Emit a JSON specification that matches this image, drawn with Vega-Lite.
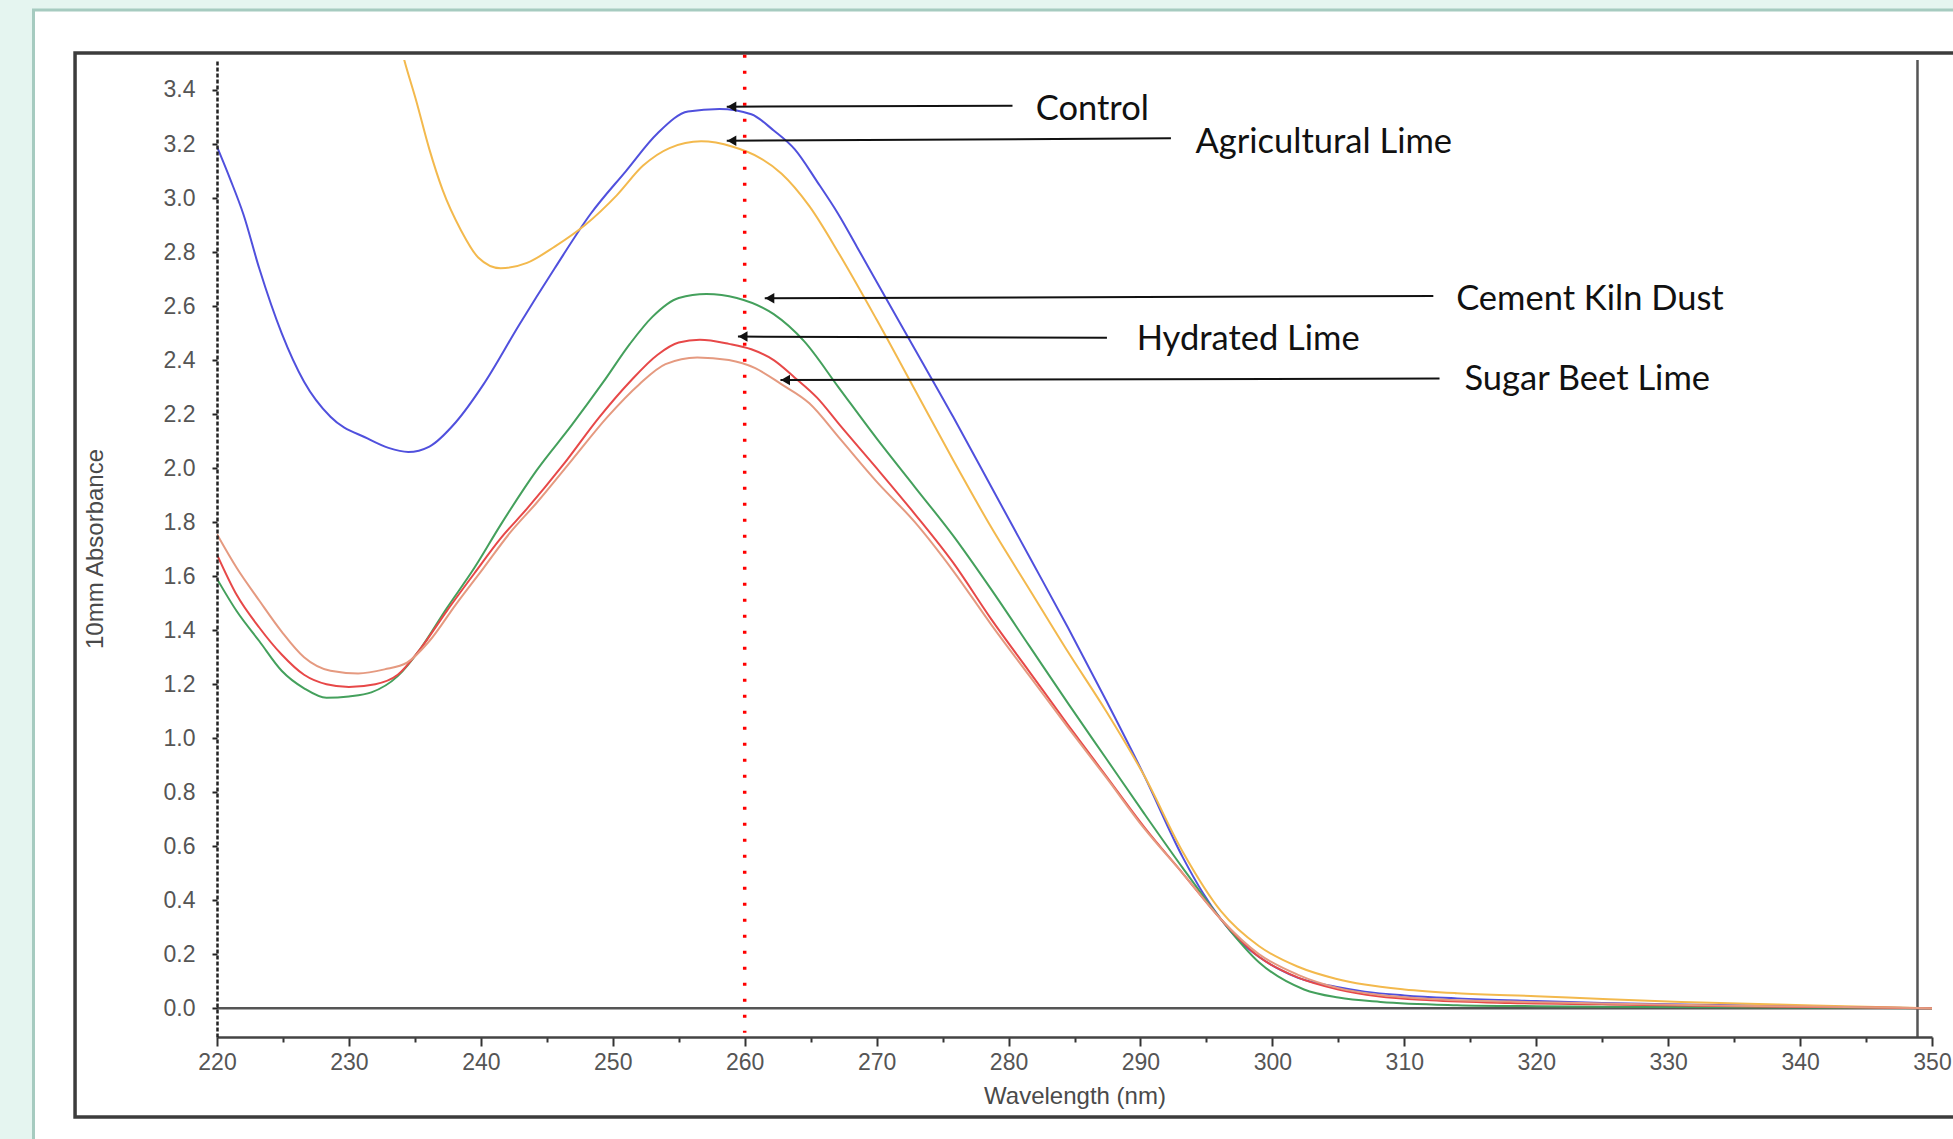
{
  "$schema": "https://vega.github.io/schema/vega-lite/v6.json",
  "width": 1715,
  "height": 977,
  "autosize": {"type": "none"},
  "padding": {"left": 217, "top": 60, "right": 21, "bottom": 102},
  "background": "#ffffff",
  "config": {"view": {"stroke": null}},
  "datasets": {
    "spectra": [
      {"sample":"Control","wavelength":220,"absorbance":3.19},{"sample":"Control","wavelength":221,"absorbance":3.07},{"sample":"Control","wavelength":222,"absorbance":2.94},{"sample":"Control","wavelength":223.2,"absorbance":2.74},{"sample":"Control","wavelength":224.9,"absorbance":2.5},{"sample":"Control","wavelength":226.6,"absorbance":2.32},{"sample":"Control","wavelength":228.6,"absorbance":2.19},{"sample":"Control","wavelength":231.4,"absorbance":2.11},{"sample":"Control","wavelength":233.0,"absorbance":2.075},{"sample":"Control","wavelength":234.5,"absorbance":2.06},{"sample":"Control","wavelength":236.1,"absorbance":2.08},{"sample":"Control","wavelength":238.1,"absorbance":2.17},{"sample":"Control","wavelength":240.2,"absorbance":2.31},{"sample":"Control","wavelength":242.9,"absorbance":2.53},{"sample":"Control","wavelength":245.6,"absorbance":2.74},{"sample":"Control","wavelength":248.3,"absorbance":2.94},{"sample":"Control","wavelength":251.0,"absorbance":3.1},{"sample":"Control","wavelength":253.4,"absorbance":3.24},{"sample":"Control","wavelength":255.7,"absorbance":3.32},{"sample":"Control","wavelength":258.1,"absorbance":3.33},{"sample":"Control","wavelength":260.5,"absorbance":3.31},{"sample":"Control","wavelength":262.2,"absorbance":3.25},{"sample":"Control","wavelength":263.8,"absorbance":3.18},{"sample":"Control","wavelength":265.5,"absorbance":3.06},{"sample":"Control","wavelength":267.1,"absorbance":2.94},{"sample":"Control","wavelength":268.5,"absorbance":2.82},{"sample":"Control","wavelength":270.0,"absorbance":2.69},{"sample":"Control","wavelength":272.9,"absorbance":2.44},{"sample":"Control","wavelength":275.8,"absorbance":2.19},{"sample":"Control","wavelength":278.7,"absorbance":1.93},{"sample":"Control","wavelength":281.6,"absorbance":1.67},{"sample":"Control","wavelength":284.5,"absorbance":1.41},{"sample":"Control","wavelength":287.4,"absorbance":1.14},{"sample":"Control","wavelength":290.3,"absorbance":0.86},{"sample":"Control","wavelength":293.2,"absorbance":0.56},{"sample":"Control","wavelength":294.7,"absorbance":0.43},{"sample":"Control","wavelength":296.1,"absorbance":0.33},{"sample":"Control","wavelength":297.5,"absorbance":0.25},{"sample":"Control","wavelength":299.0,"absorbance":0.19},{"sample":"Control","wavelength":300.5,"absorbance":0.145},{"sample":"Control","wavelength":302.0,"absorbance":0.112},{"sample":"Control","wavelength":304.8,"absorbance":0.08},{"sample":"Control","wavelength":307,"absorbance":0.062},{"sample":"Control","wavelength":310,"absorbance":0.048},{"sample":"Control","wavelength":314,"absorbance":0.037},{"sample":"Control","wavelength":320,"absorbance":0.027},{"sample":"Control","wavelength":325,"absorbance":0.02},{"sample":"Control","wavelength":330,"absorbance":0.015},{"sample":"Control","wavelength":340,"absorbance":0.008},{"sample":"Control","wavelength":350,"absorbance":0.0},

      {"sample":"Agricultural Lime","wavelength":233.0,"absorbance":3.75},{"sample":"Agricultural Lime","wavelength":234.2,"absorbance":3.51},{"sample":"Agricultural Lime","wavelength":235.1,"absorbance":3.36},{"sample":"Agricultural Lime","wavelength":236.1,"absorbance":3.18},{"sample":"Agricultural Lime","wavelength":237.1,"absorbance":3.03},{"sample":"Agricultural Lime","wavelength":238.5,"absorbance":2.88},{"sample":"Agricultural Lime","wavelength":239.8,"absorbance":2.78},{"sample":"Agricultural Lime","wavelength":241.5,"absorbance":2.74},{"sample":"Agricultural Lime","wavelength":243.5,"absorbance":2.76},{"sample":"Agricultural Lime","wavelength":245.6,"absorbance":2.82},{"sample":"Agricultural Lime","wavelength":247.9,"absorbance":2.9},{"sample":"Agricultural Lime","wavelength":250.3,"absorbance":3.01},{"sample":"Agricultural Lime","wavelength":252.3,"absorbance":3.12},{"sample":"Agricultural Lime","wavelength":254.3,"absorbance":3.185},{"sample":"Agricultural Lime","wavelength":256.7,"absorbance":3.21},{"sample":"Agricultural Lime","wavelength":259.1,"absorbance":3.19},{"sample":"Agricultural Lime","wavelength":261.1,"absorbance":3.15},{"sample":"Agricultural Lime","wavelength":262.8,"absorbance":3.09},{"sample":"Agricultural Lime","wavelength":264.9,"absorbance":2.97},{"sample":"Agricultural Lime","wavelength":267.2,"absorbance":2.79},{"sample":"Agricultural Lime","wavelength":270.0,"absorbance":2.55},{"sample":"Agricultural Lime","wavelength":272.9,"absorbance":2.29},{"sample":"Agricultural Lime","wavelength":275.8,"absorbance":2.03},{"sample":"Agricultural Lime","wavelength":278.7,"absorbance":1.78},{"sample":"Agricultural Lime","wavelength":281.6,"absorbance":1.55},{"sample":"Agricultural Lime","wavelength":284.5,"absorbance":1.32},{"sample":"Agricultural Lime","wavelength":287.4,"absorbance":1.1},{"sample":"Agricultural Lime","wavelength":290.3,"absorbance":0.86},{"sample":"Agricultural Lime","wavelength":293.2,"absorbance":0.58},{"sample":"Agricultural Lime","wavelength":296.1,"absorbance":0.36},{"sample":"Agricultural Lime","wavelength":299.0,"absorbance":0.23},{"sample":"Agricultural Lime","wavelength":301.9,"absorbance":0.155},{"sample":"Agricultural Lime","wavelength":304.8,"absorbance":0.11},{"sample":"Agricultural Lime","wavelength":307,"absorbance":0.088},{"sample":"Agricultural Lime","wavelength":310,"absorbance":0.07},{"sample":"Agricultural Lime","wavelength":314,"absorbance":0.056},{"sample":"Agricultural Lime","wavelength":320,"absorbance":0.045},{"sample":"Agricultural Lime","wavelength":325.5,"absorbance":0.034},{"sample":"Agricultural Lime","wavelength":331,"absorbance":0.024},{"sample":"Agricultural Lime","wavelength":341,"absorbance":0.011},{"sample":"Agricultural Lime","wavelength":350,"absorbance":0.0},

      {"sample":"Cement Kiln Dust","wavelength":220,"absorbance":1.59},{"sample":"Cement Kiln Dust","wavelength":221.5,"absorbance":1.47},{"sample":"Cement Kiln Dust","wavelength":223.2,"absorbance":1.36},{"sample":"Cement Kiln Dust","wavelength":224.9,"absorbance":1.25},{"sample":"Cement Kiln Dust","wavelength":226.6,"absorbance":1.185},{"sample":"Cement Kiln Dust","wavelength":228.3,"absorbance":1.15},{"sample":"Cement Kiln Dust","wavelength":230.0,"absorbance":1.155},{"sample":"Cement Kiln Dust","wavelength":231.7,"absorbance":1.17},{"sample":"Cement Kiln Dust","wavelength":233.7,"absorbance":1.23},{"sample":"Cement Kiln Dust","wavelength":235.4,"absorbance":1.33},{"sample":"Cement Kiln Dust","wavelength":237.4,"absorbance":1.48},{"sample":"Cement Kiln Dust","wavelength":239.5,"absorbance":1.63},{"sample":"Cement Kiln Dust","wavelength":241.5,"absorbance":1.79},{"sample":"Cement Kiln Dust","wavelength":244.2,"absorbance":1.99},{"sample":"Cement Kiln Dust","wavelength":246.9,"absorbance":2.16},{"sample":"Cement Kiln Dust","wavelength":249.3,"absorbance":2.32},{"sample":"Cement Kiln Dust","wavelength":251.3,"absorbance":2.46},{"sample":"Cement Kiln Dust","wavelength":253.0,"absorbance":2.56},{"sample":"Cement Kiln Dust","wavelength":255.0,"absorbance":2.63},{"sample":"Cement Kiln Dust","wavelength":257.1,"absorbance":2.645},{"sample":"Cement Kiln Dust","wavelength":259.4,"absorbance":2.63},{"sample":"Cement Kiln Dust","wavelength":262.2,"absorbance":2.57},{"sample":"Cement Kiln Dust","wavelength":264.5,"absorbance":2.47},{"sample":"Cement Kiln Dust","wavelength":267.1,"absorbance":2.3},{"sample":"Cement Kiln Dust","wavelength":270.0,"absorbance":2.11},{"sample":"Cement Kiln Dust","wavelength":272.9,"absorbance":1.93},{"sample":"Cement Kiln Dust","wavelength":275.8,"absorbance":1.75},{"sample":"Cement Kiln Dust","wavelength":278.7,"absorbance":1.55},{"sample":"Cement Kiln Dust","wavelength":281.6,"absorbance":1.34},{"sample":"Cement Kiln Dust","wavelength":284.5,"absorbance":1.13},{"sample":"Cement Kiln Dust","wavelength":287.4,"absorbance":0.925},{"sample":"Cement Kiln Dust","wavelength":290.3,"absorbance":0.72},{"sample":"Cement Kiln Dust","wavelength":293.2,"absorbance":0.52},{"sample":"Cement Kiln Dust","wavelength":296.1,"absorbance":0.33},{"sample":"Cement Kiln Dust","wavelength":299.0,"absorbance":0.17},{"sample":"Cement Kiln Dust","wavelength":302.4,"absorbance":0.07},{"sample":"Cement Kiln Dust","wavelength":305,"absorbance":0.04},{"sample":"Cement Kiln Dust","wavelength":308.2,"absorbance":0.024},{"sample":"Cement Kiln Dust","wavelength":314,"absorbance":0.012},{"sample":"Cement Kiln Dust","wavelength":320,"absorbance":0.008},{"sample":"Cement Kiln Dust","wavelength":330,"absorbance":0.005},{"sample":"Cement Kiln Dust","wavelength":340,"absorbance":0.003},{"sample":"Cement Kiln Dust","wavelength":350,"absorbance":0.0},

      {"sample":"Hydrated Lime","wavelength":220,"absorbance":1.68},{"sample":"Hydrated Lime","wavelength":221.5,"absorbance":1.53},{"sample":"Hydrated Lime","wavelength":223.2,"absorbance":1.41},{"sample":"Hydrated Lime","wavelength":224.9,"absorbance":1.31},{"sample":"Hydrated Lime","wavelength":226.6,"absorbance":1.235},{"sample":"Hydrated Lime","wavelength":228.3,"absorbance":1.2},{"sample":"Hydrated Lime","wavelength":230.0,"absorbance":1.19},{"sample":"Hydrated Lime","wavelength":232.0,"absorbance":1.2},{"sample":"Hydrated Lime","wavelength":233.7,"absorbance":1.235},{"sample":"Hydrated Lime","wavelength":235.4,"absorbance":1.33},{"sample":"Hydrated Lime","wavelength":237.4,"absorbance":1.47},{"sample":"Hydrated Lime","wavelength":239.5,"absorbance":1.61},{"sample":"Hydrated Lime","wavelength":241.5,"absorbance":1.74},{"sample":"Hydrated Lime","wavelength":243.5,"absorbance":1.85},{"sample":"Hydrated Lime","wavelength":246.2,"absorbance":2.01},{"sample":"Hydrated Lime","wavelength":249.0,"absorbance":2.19},{"sample":"Hydrated Lime","wavelength":251.3,"absorbance":2.32},{"sample":"Hydrated Lime","wavelength":253.4,"absorbance":2.42},{"sample":"Hydrated Lime","wavelength":255.0,"absorbance":2.465},{"sample":"Hydrated Lime","wavelength":256.6,"absorbance":2.475},{"sample":"Hydrated Lime","wavelength":258.8,"absorbance":2.46},{"sample":"Hydrated Lime","wavelength":260.5,"absorbance":2.44},{"sample":"Hydrated Lime","wavelength":262.2,"absorbance":2.4},{"sample":"Hydrated Lime","wavelength":263.8,"absorbance":2.335},{"sample":"Hydrated Lime","wavelength":265.5,"absorbance":2.26},{"sample":"Hydrated Lime","wavelength":267.2,"absorbance":2.16},{"sample":"Hydrated Lime","wavelength":270.0,"absorbance":2.0},{"sample":"Hydrated Lime","wavelength":272.9,"absorbance":1.83},{"sample":"Hydrated Lime","wavelength":275.8,"absorbance":1.65},{"sample":"Hydrated Lime","wavelength":278.7,"absorbance":1.44},{"sample":"Hydrated Lime","wavelength":281.6,"absorbance":1.245},{"sample":"Hydrated Lime","wavelength":284.5,"absorbance":1.05},{"sample":"Hydrated Lime","wavelength":287.4,"absorbance":0.86},{"sample":"Hydrated Lime","wavelength":290.3,"absorbance":0.67},{"sample":"Hydrated Lime","wavelength":293.2,"absorbance":0.5},{"sample":"Hydrated Lime","wavelength":296.1,"absorbance":0.33},{"sample":"Hydrated Lime","wavelength":299.0,"absorbance":0.19},{"sample":"Hydrated Lime","wavelength":301.9,"absorbance":0.115},{"sample":"Hydrated Lime","wavelength":305,"absorbance":0.07},{"sample":"Hydrated Lime","wavelength":308,"absorbance":0.045},{"sample":"Hydrated Lime","wavelength":312,"absorbance":0.03},{"sample":"Hydrated Lime","wavelength":318,"absorbance":0.02},{"sample":"Hydrated Lime","wavelength":325,"absorbance":0.015},{"sample":"Hydrated Lime","wavelength":335,"absorbance":0.008},{"sample":"Hydrated Lime","wavelength":345,"absorbance":0.003},{"sample":"Hydrated Lime","wavelength":350,"absorbance":0.0},

      {"sample":"Sugar Beet Lime","wavelength":220,"absorbance":1.755},{"sample":"Sugar Beet Lime","wavelength":221.5,"absorbance":1.63},{"sample":"Sugar Beet Lime","wavelength":223.2,"absorbance":1.51},{"sample":"Sugar Beet Lime","wavelength":224.9,"absorbance":1.395},{"sample":"Sugar Beet Lime","wavelength":226.6,"absorbance":1.3},{"sample":"Sugar Beet Lime","wavelength":228.6,"absorbance":1.25},{"sample":"Sugar Beet Lime","wavelength":230.7,"absorbance":1.24},{"sample":"Sugar Beet Lime","wavelength":232.7,"absorbance":1.255},{"sample":"Sugar Beet Lime","wavelength":234.4,"absorbance":1.28},{"sample":"Sugar Beet Lime","wavelength":236.1,"absorbance":1.36},{"sample":"Sugar Beet Lime","wavelength":238.1,"absorbance":1.495},{"sample":"Sugar Beet Lime","wavelength":240.2,"absorbance":1.63},{"sample":"Sugar Beet Lime","wavelength":242.2,"absorbance":1.76},{"sample":"Sugar Beet Lime","wavelength":244.2,"absorbance":1.87},{"sample":"Sugar Beet Lime","wavelength":246.9,"absorbance":2.03},{"sample":"Sugar Beet Lime","wavelength":249.6,"absorbance":2.19},{"sample":"Sugar Beet Lime","wavelength":252.0,"absorbance":2.31},{"sample":"Sugar Beet Lime","wavelength":254.0,"absorbance":2.385},{"sample":"Sugar Beet Lime","wavelength":256.4,"absorbance":2.41},{"sample":"Sugar Beet Lime","wavelength":258.8,"absorbance":2.4},{"sample":"Sugar Beet Lime","wavelength":260.8,"absorbance":2.37},{"sample":"Sugar Beet Lime","wavelength":262.8,"absorbance":2.31},{"sample":"Sugar Beet Lime","wavelength":264.9,"absorbance":2.24},{"sample":"Sugar Beet Lime","wavelength":267.2,"absorbance":2.11},{"sample":"Sugar Beet Lime","wavelength":270.0,"absorbance":1.95},{"sample":"Sugar Beet Lime","wavelength":272.9,"absorbance":1.8},{"sample":"Sugar Beet Lime","wavelength":275.8,"absorbance":1.62},{"sample":"Sugar Beet Lime","wavelength":278.7,"absorbance":1.42},{"sample":"Sugar Beet Lime","wavelength":281.6,"absorbance":1.23},{"sample":"Sugar Beet Lime","wavelength":284.5,"absorbance":1.04},{"sample":"Sugar Beet Lime","wavelength":287.4,"absorbance":0.855},{"sample":"Sugar Beet Lime","wavelength":290.3,"absorbance":0.665},{"sample":"Sugar Beet Lime","wavelength":293.2,"absorbance":0.5},{"sample":"Sugar Beet Lime","wavelength":296.1,"absorbance":0.33},{"sample":"Sugar Beet Lime","wavelength":299.0,"absorbance":0.2},{"sample":"Sugar Beet Lime","wavelength":301.9,"absorbance":0.125},{"sample":"Sugar Beet Lime","wavelength":305,"absorbance":0.075},{"sample":"Sugar Beet Lime","wavelength":308,"absorbance":0.05},{"sample":"Sugar Beet Lime","wavelength":312,"absorbance":0.035},{"sample":"Sugar Beet Lime","wavelength":318,"absorbance":0.025},{"sample":"Sugar Beet Lime","wavelength":325,"absorbance":0.018},{"sample":"Sugar Beet Lime","wavelength":335,"absorbance":0.01},{"sample":"Sugar Beet Lime","wavelength":345,"absorbance":0.004},{"sample":"Sugar Beet Lime","wavelength":350,"absorbance":0.0}
    ],
    "annotations": [
      {"label":"Control","tip_nm":258.64,"tip_abs":3.338,"tail_nm":280.3,"tail_abs":3.342,"text_nm":282.06,"text_abs":3.289},
      {"label":"Agricultural Lime","tip_nm":258.64,"tip_abs":3.212,"tail_nm":292.31,"tail_abs":3.221,"text_nm":294.17,"text_abs":3.166},
      {"label":"Cement Kiln Dust","tip_nm":261.52,"tip_abs":2.629,"tail_nm":312.2,"tail_abs":2.637,"text_nm":313.93,"text_abs":2.585},
      {"label":"Hydrated Lime","tip_nm":259.49,"tip_abs":2.487,"tail_nm":287.46,"tail_abs":2.483,"text_nm":289.71,"text_abs":2.437},
      {"label":"Sugar Beet Lime","tip_nm":262.71,"tip_abs":2.326,"tail_nm":312.67,"tail_abs":2.332,"text_nm":314.56,"text_abs":2.289}
    ]
  },
  "layer": [
    {
      "data": {"values": [{}]},
      "mark": {"type": "rect", "fill": "#e5f5f0", "clip": false},
      "encoding": {
        "x": {"datum": 190, "type": "quantitative", "title": "Wavelength (nm)", "scale": {"domain": [220, 350], "nice": false, "zero": false}},
        "x2": {"datum": 206.09},
        "y": {"datum": 4.5, "type": "quantitative", "title": "10mm Absorbance", "scale": {"domain": [-0.106, 3.511], "nice": false, "zero": false}},
        "y2": {"datum": -1.2}
      }
    },
    {
      "data": {"values": [{}]},
      "mark": {"type": "rect", "fill": "#e5f5f0", "clip": false},
      "encoding": {
        "x": {"datum": 190, "type": "quantitative", "title": "Wavelength (nm)", "scale": {"domain": [220, 350], "nice": false, "zero": false}},
        "x2": {"datum": 370},
        "y": {"datum": 4.5, "type": "quantitative", "title": "10mm Absorbance", "scale": {"domain": [-0.106, 3.511], "nice": false, "zero": false}},
        "y2": {"datum": 3.696}
      }
    },
    {
      "data": {"values": [{}]},
      "mark": {"type": "rect", "fillOpacity": 0, "stroke": "#a6cbc0", "strokeWidth": 3, "clip": false},
      "encoding": {
        "x": {"datum": 206.09, "type": "quantitative", "title": "Wavelength (nm)", "scale": {"domain": [220, 350], "nice": false, "zero": false}},
        "x2": {"datum": 370},
        "y": {"datum": 3.696, "type": "quantitative", "title": "10mm Absorbance", "scale": {"domain": [-0.106, 3.511], "nice": false, "zero": false}},
        "y2": {"datum": -1.2}
      }
    },
    {
      "data": {"values": [{}]},
      "mark": {"type": "rect", "fillOpacity": 0, "stroke": "#3c3c3c", "strokeWidth": 3.5, "clip": false},
      "encoding": {
        "x": {"datum": 209.24, "type": "quantitative", "title": "Wavelength (nm)", "scale": {"domain": [220, 350], "nice": false, "zero": false}},
        "x2": {"datum": 370},
        "y": {"datum": 3.537, "type": "quantitative", "title": "10mm Absorbance", "scale": {"domain": [-0.106, 3.511], "nice": false, "zero": false}},
        "y2": {"datum": -0.4024}
      }
    },
    {
      "data": {"values": [{}]},
      "mark": {"type": "rule", "color": "#555555", "strokeWidth": 2.5, "clip": false},
      "encoding": {
        "x": {"datum": 220, "type": "quantitative", "title": "Wavelength (nm)", "scale": {"domain": [220, 350], "nice": false, "zero": false}},
        "x2": {"datum": 350},
        "y": {"datum": 0, "type": "quantitative", "title": "10mm Absorbance", "scale": {"domain": [-0.106, 3.511], "nice": false, "zero": false}}
      }
    },
    {
      "data": {"values": [{}]},
      "mark": {"type": "rule", "color": "#555555", "strokeWidth": 2.5, "clip": false},
      "encoding": {
        "x": {"datum": 348.9, "type": "quantitative", "title": "Wavelength (nm)", "scale": {"domain": [220, 350], "nice": false, "zero": false}},
        "y": {"datum": 3.511, "type": "quantitative", "title": "10mm Absorbance", "scale": {"domain": [-0.106, 3.511], "nice": false, "zero": false}},
        "y2": {"datum": -0.106}
      }
    },
    {
      "data": {"name": "spectra"},
      "mark": {"type": "line", "interpolate": "monotone", "strokeWidth": 2, "clip": true},
      "encoding": {
        "x": {
          "field": "wavelength", "type": "quantitative", "title": "Wavelength (nm)",
          "scale": {"domain": [220, 350], "nice": false, "zero": false},
          "axis": {
            "zindex": 1,
            "values": [220,222.5,225,227.5,230,232.5,235,237.5,240,242.5,245,247.5,250,252.5,255,257.5,260,262.5,265,267.5,270,272.5,275,277.5,280,282.5,285,287.5,290,292.5,295,297.5,300,302.5,305,307.5,310,312.5,315,317.5,320,322.5,325,327.5,330,332.5,335,337.5,340,342.5,345,347.5,350],
            "format": "d",
            "labelExpr": "datum.value % 10 === 0 ? datum.label : ''",
            "labelFont": "Liberation Sans", "labelFontSize": 23, "labelColor": "#555555",
            "labelPadding": 5, "labelOverlap": false, "labelFlush": false, "labelBound": false,
            "tickSize": {"condition": {"test": "datum.value % 10 === 0", "value": 9}, "value": 5},
            "tickColor": "#333333", "tickWidth": 2,
            "domainColor": "#444444", "domainWidth": 2.5,
            "grid": false,
            "titleFont": "Liberation Sans", "titleFontSize": 24, "titleFontWeight": "normal", "titleColor": "#4a4a4a", "titlePadding": 10
          }
        },
        "y": {
          "field": "absorbance", "type": "quantitative", "title": "10mm Absorbance",
          "scale": {"domain": [-0.106, 3.511], "nice": false, "zero": false},
          "axis": {
            "zindex": 1,
            "values": [0,0.2,0.4,0.6,0.8,1.0,1.2,1.4,1.6,1.8,2.0,2.2,2.4,2.6,2.8,3.0,3.2,3.4],
            "format": ".1f",
            "labelFont": "Liberation Sans", "labelFontSize": 23, "labelColor": "#555555",
            "labelPadding": 17,
            "tickSize": 5, "tickColor": "#222222", "tickWidth": 2,
            "domainColor": "#222222", "domainWidth": 2.5, "domainDash": [4, 2],
            "grid": false,
            "titleFont": "Liberation Sans", "titleFontSize": 24, "titleFontWeight": "normal", "titleColor": "#4a4a4a", "titlePadding": 56
          }
        },
        "color": {
          "field": "sample", "type": "nominal",
          "scale": {"domain": ["Control", "Agricultural Lime", "Cement Kiln Dust", "Hydrated Lime", "Sugar Beet Lime"], "range": ["#5050dd", "#f3b94d", "#44a05c", "#e74848", "#e59a80"]},
          "legend": null
        },
        "order": {"field": "wavelength", "type": "quantitative"}
      }
    },
    {
      "data": {"values": [{}]},
      "mark": {"type": "rule", "color": "#ff0000", "strokeWidth": 3.5, "strokeDash": [3, 13], "clip": false},
      "encoding": {
        "x": {"datum": 260, "type": "quantitative", "title": "Wavelength (nm)", "scale": {"domain": [220, 350], "nice": false, "zero": false}},
        "y": {"datum": 3.53, "type": "quantitative", "title": "10mm Absorbance", "scale": {"domain": [-0.106, 3.511], "nice": false, "zero": false}},
        "y2": {"datum": -0.09}
      }
    },
    {
      "data": {"name": "annotations"},
      "mark": {"type": "rule", "color": "#111111", "strokeWidth": 2},
      "encoding": {
        "x": {"field": "tip_nm", "type": "quantitative", "title": "Wavelength (nm)", "scale": {"domain": [220, 350], "nice": false, "zero": false}},
        "x2": {"field": "tail_nm"},
        "y": {"field": "tip_abs", "type": "quantitative", "title": "10mm Absorbance", "scale": {"domain": [-0.106, 3.511], "nice": false, "zero": false}},
        "y2": {"field": "tail_abs"}
      }
    },
    {
      "data": {"name": "annotations"},
      "mark": {"type": "point", "shape": "triangle-left", "filled": true, "color": "#111111", "size": 110, "opacity": 1, "xOffset": 5},
      "encoding": {
        "x": {"field": "tip_nm", "type": "quantitative", "title": "Wavelength (nm)", "scale": {"domain": [220, 350], "nice": false, "zero": false}},
        "y": {"field": "tip_abs", "type": "quantitative", "title": "10mm Absorbance", "scale": {"domain": [-0.106, 3.511], "nice": false, "zero": false}}
      }
    },
    {
      "data": {"name": "annotations"},
      "mark": {"type": "text", "font": "Lato", "fontSize": 34.5, "color": "#111111", "align": "left", "baseline": "alphabetic"},
      "encoding": {
        "x": {"field": "text_nm", "type": "quantitative", "title": "Wavelength (nm)", "scale": {"domain": [220, 350], "nice": false, "zero": false}},
        "y": {"field": "text_abs", "type": "quantitative", "title": "10mm Absorbance", "scale": {"domain": [-0.106, 3.511], "nice": false, "zero": false}},
        "text": {"field": "label", "type": "nominal"}
      }
    }
  ]
}
